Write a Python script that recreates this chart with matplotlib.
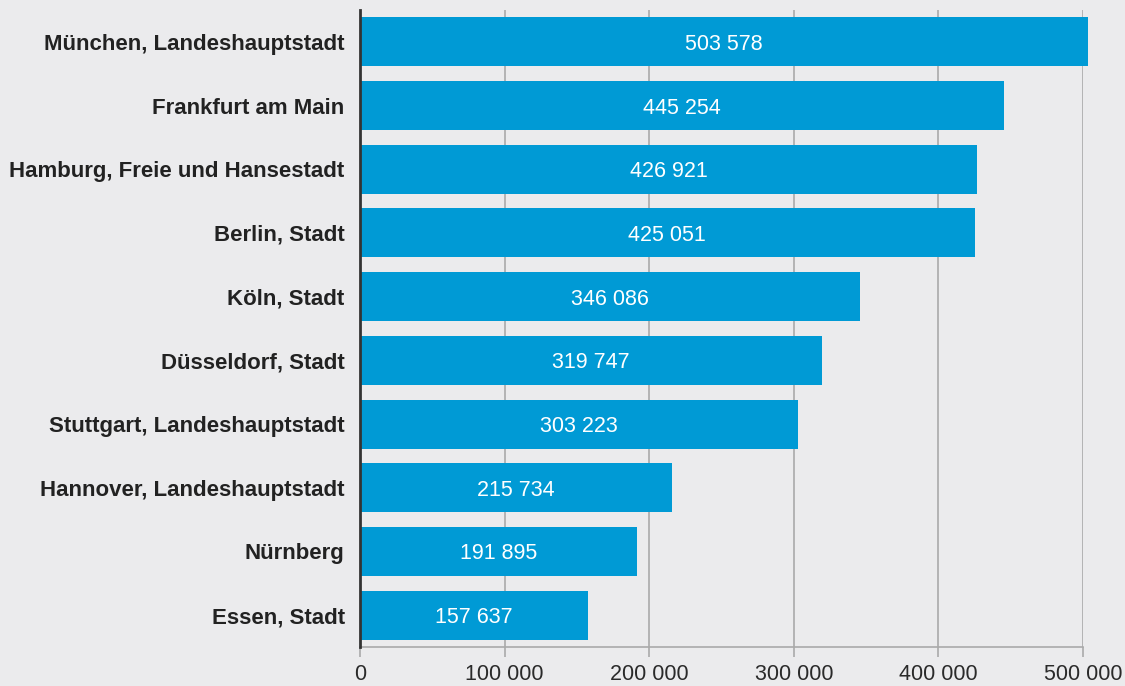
import matplotlib.pyplot as plt

# data (top to bottom in the chart)
cities = [
    "München, Landeshauptstadt",
    "Frankfurt am Main",
    "Hamburg, Freie und Hansestadt",
    "Berlin, Stadt",
    "Köln, Stadt",
    "Düsseldorf, Stadt",
    "Stuttgart, Landeshauptstadt",
    "Hannover, Landeshauptstadt",
    "Nürnberg",
    "Essen, Stadt",
]
values = [503578, 445254, 426921, 425051, 346086, 319747, 303223, 215734, 191895, 157637]
xticks = [0, 100000, 200000, 300000, 400000, 500000]

bg = "#ebebed"
bar_color = "#009ad5"


def fmt(v):
    return f"{v:,}".replace(",", " ")


plt.rcParams["font.family"] = ["Liberation Sans", "DejaVu Sans"]

fig = plt.figure(figsize=(11.25, 6.86), dpi=100, facecolor=bg)
ax = fig.add_axes([360 / 1125, 39 / 686, 723 / 1125, 637 / 686])
ax.set_facecolor(bg)

n = len(cities)
ypos = list(range(n - 1, -1, -1))

ax.barh(ypos, values, height=0.77, color=bar_color, zorder=3, clip_on=False)

for y, v in zip(ypos, values):
    ax.text(v / 2, y, fmt(v), ha="center", va="center_baseline", color="white",
            fontsize=15.5, zorder=4)

ax.set_xlim(0, 500000)
ax.set_ylim(-0.5, n - 0.5)

ax.set_yticks(ypos)
ax.set_yticklabels(cities, fontsize=16, fontweight="bold", color="#222222")
ax.tick_params(axis="y", length=0, pad=11)

ax.set_xticks(xticks)
ax.set_xticklabels([fmt(t) for t in xticks], fontsize=15.5, color="#2a2a2a")
ax.tick_params(axis="x", length=7, width=1.2, color="#aaaaaa", pad=5, direction="out")

ax.grid(axis="x", color="#aaaaaa", linewidth=1.2, zorder=0)

for s in ["top", "right"]:
    ax.spines[s].set_visible(False)
ax.spines["left"].set_color("#333333")
ax.spines["left"].set_linewidth(2)
ax.spines["left"].set_zorder(5)
ax.spines["bottom"].set_color("#aaaaaa")
ax.spines["bottom"].set_linewidth(1.2)

fig.savefig("out.png", dpi=100, facecolor=bg)
